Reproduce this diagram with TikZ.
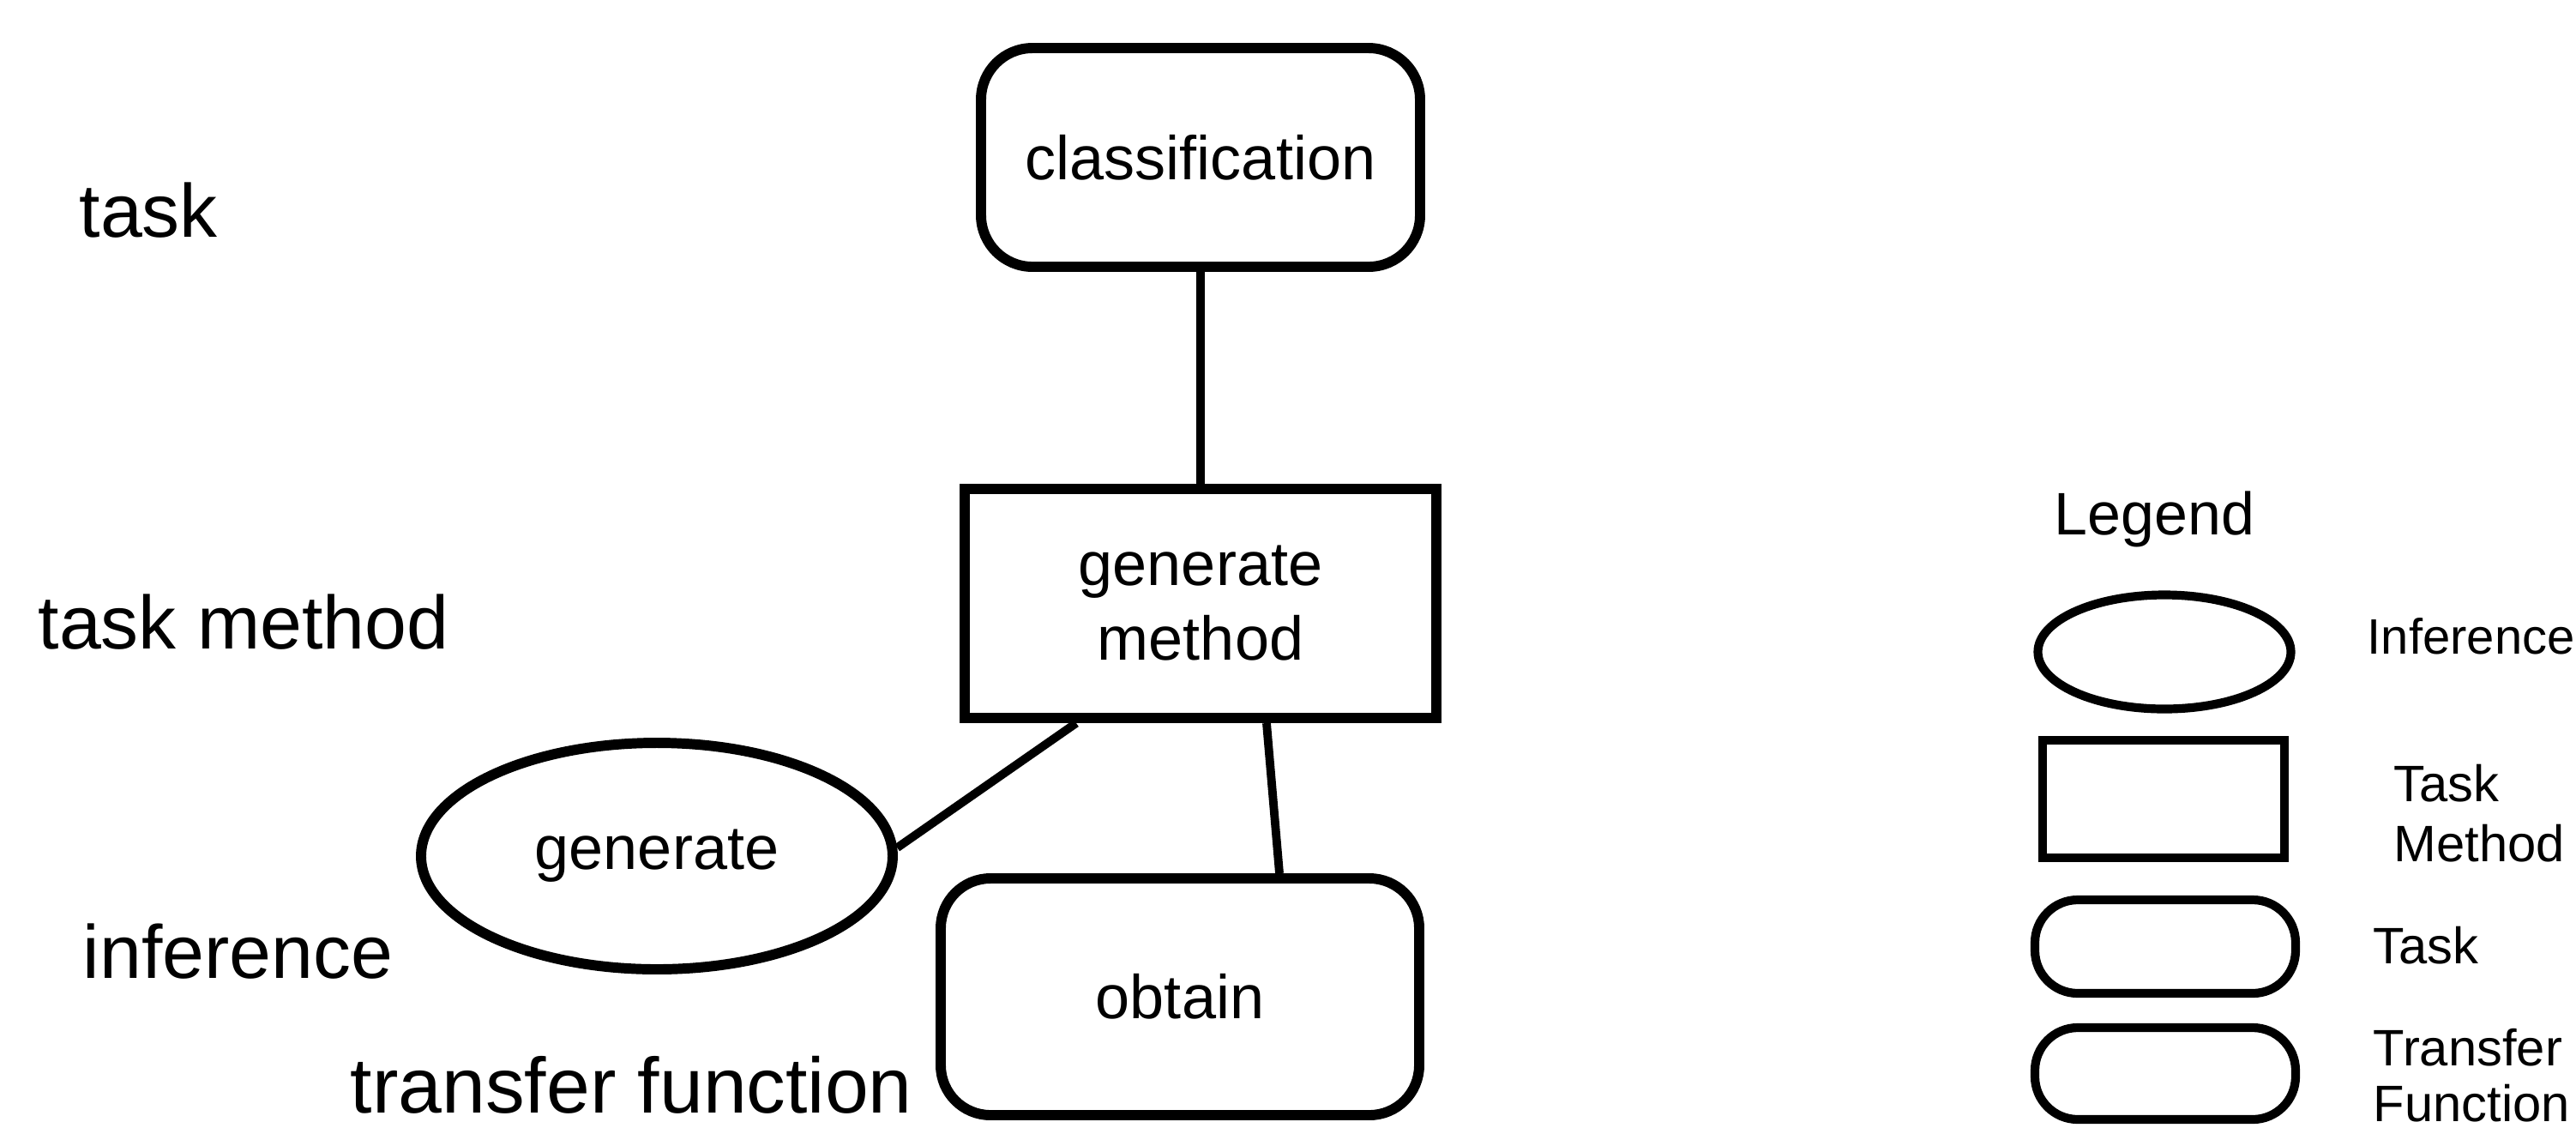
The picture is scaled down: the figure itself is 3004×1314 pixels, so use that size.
\documentclass[tikz,border=0pt]{standalone}
\usepackage{fontspec}
\setmainfont{Liberation Sans}
\usetikzlibrary{shapes.geometric,calc}
\begin{document}
\begin{tikzpicture}[x=0.1mm,y=-0.1mm,
  shapeline/.style={draw,line width=3.4pt,inner sep=0pt},
  link/.style={line width=2.8pt},
  nodetext/.style={font=\fontsize{20.5}{24.75}\selectfont},
  tasknode/.style={shapeline,rectangle,rounded corners=6mm,nodetext},
  methodnode/.style={shapeline,rectangle,nodetext,align=center},
  infnode/.style={shapeline,ellipse,nodetext},
  levellabel/.style={anchor=base west,inner sep=0pt,font=\fontsize{25}{29}\selectfont},
  keytitle/.style={anchor=base west,inner sep=0pt,font=\fontsize{19.9}{24}\selectfont},
  keylabel/.style={anchor=base west,inner sep=0pt,align=left,font=\fontsize{17}{19.8}\selectfont},
  keyshape/.style={draw,line width=2.9pt,inner sep=0pt}
]
\useasboundingbox (0,0) rectangle (3004,1314);
\fill[white] (0,0) rectangle (3004,1314);

% level names on the left
\node[levellabel] (lvtask)   at (92,276)   {task};
\node[levellabel] (lvmethod) at (44,756)   {task method};
\node[levellabel] (lvinf)    at (96,1140)  {inference};
\node[levellabel,font=\fontsize{26}{30}\selectfont] (lvtf) at (408,1297) {transfer function};

% the decomposition
\node[tasknode,minimum width=51.2mm,minimum height=25.5mm] (cls) at (1400,183.5) {classification};
\node[methodnode,minimum width=55mm,minimum height=26.7mm] (gm) at (1400,703.5) {generate\\method};
\node[infnode,minimum width=55mm,minimum height=26.4mm] (gen) at (766,998) {generate};
\node[tasknode,rounded corners=5.8mm,minimum width=55.8mm,minimum height=27.6mm] (ob) at (1376,1162) {obtain};

\coordinate (gmL) at ($(gm.south)+(-145,0)$);
\coordinate (gmR) at ($(gm.south)+(77,0)$);
\coordinate (obT) at ($(ob.north)+(116,0)$);

\draw[link] (cls.south) -- (gm.north);
\draw[link] (gmL) -- (gen.2);
\draw[link] (gmR) -- (obT);

% legend
\node[keytitle] (lgtitle) at (2395,623) {Legend};
\node[keyshape,ellipse,minimum width=29.5mm,minimum height=13.3mm] (kinf) at (2524,760) {};
\node[keyshape,rectangle,minimum width=28.2mm,minimum height=13.7mm] (kmeth) at (2523,931.5) {};
\node[keyshape,rectangle,rounded corners=5mm,minimum width=30.4mm,minimum height=10.9mm] (ktask) at (2525,1103.5) {};
\node[keyshape,rectangle,rounded corners=5mm,minimum width=30.4mm,minimum height=10.7mm] (ktf) at (2525,1251.5) {};

% legend captions (a two-line caption sits on the baseline of its last line)
\node[keylabel,font=\fontsize{16.5}{19.8}\selectfont] (linf) at (2760,762) {Inference};
\node[keylabel] (lmeth) at (2791,1004) {Task\\Method};
\node[keylabel] (ltask) at (2767,1123) {Task};
\node[keylabel,font=\fontsize{17}{18.5}\selectfont] (ltf) at (2767,1307) {Transfer\\Function};
\end{tikzpicture}
\end{document}
